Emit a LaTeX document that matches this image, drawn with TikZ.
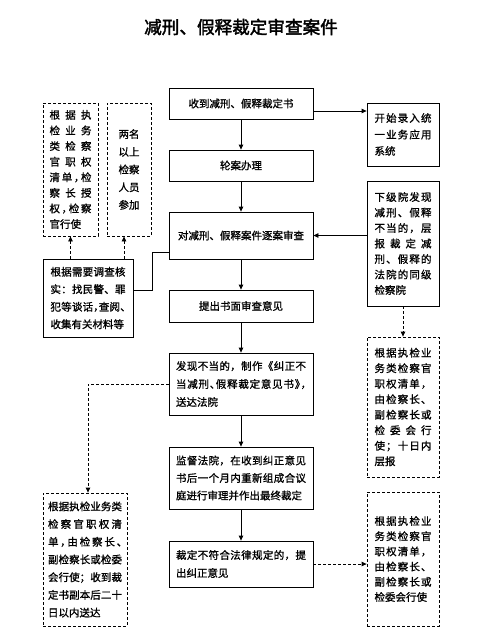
\documentclass[tikz,border=0pt]{standalone}
\usepackage{fontspec}
\setmainfont{Noto Sans CJK SC}[FakeBold=1.1]
\newfontfamily\hf{Noto Sans CJK SC}[FakeBold=1.1,RawFeature=+halt]
\newfontfamily\tf{Noto Sans CJK SC}[FakeBold=2.2]
\usetikzlibrary{arrows.meta}
\newcommand\hc{{\hf ，}}
\newcommand\hd{{\hf 、}}
\newcommand\hq{{\hf 》}}
\newcommand\jst[2]{\leavevmode\hbox to #1{\jstA#2\relax}}
\def\jstA#1{\ifx\relax#1\else#1\expandafter\jstB\fi}
\def\jstB#1{\ifx\relax#1\else\hfil#1\expandafter\jstB\fi}
\tikzset{
  bx/.style={draw, line width=0.8pt, inner sep=0pt, align=left},
  dbx/.style={bx, dash pattern=on 3pt off 2pt},
  arr/.style={line width=0.8pt, -{Triangle[length=5pt,width=4.5pt]}},
  darr/.style={arr, dash pattern=on 3pt off 2pt},
  ln/.style={line width=0.8pt},
}
\newcommand\fs[1]{\fontsize{10.5pt}{#1}\selectfont}
\begin{document}
\begin{tikzpicture}[x=1pt,y=-1pt]
\useasboundingbox (0,0) rectangle (494,643);
\node[font=\tf\fontsize{17.6pt}{20pt}\selectfont] (title) at (241,27) {减刑、假释裁定审查案件};

% main column
\node[bx, minimum width=144pt, minimum height=31pt, font=\fs{17pt}] (b1) at (241,103.5) {收到减刑、假释裁定书};
\node[bx, minimum width=144pt, minimum height=31pt, font=\fs{17pt}] (b2) at (241,165.5) {轮案办理};
\node[bx, minimum width=144pt, minimum height=47pt, font=\fs{17pt}] (b3) at (241,235.5) {对减刑、假释案件逐案审查};
\node[bx, minimum width=144pt, minimum height=32pt, font=\fs{17pt}] (b4) at (241,306) {提出书面审查意见};
\node[bx, minimum width=144pt, minimum height=62pt, text width=130pt, font=\fs{18pt}] (b5) at (241,384)
  {\jst{130pt}{发现不当的，制作《纠正不}\\\jst{130pt}{当减刑\hd 假释裁定意见书\hq\hc}\\送达法院};
\node[bx, minimum width=144pt, minimum height=62pt, text width=130pt, font=\fs{17.5pt}] (b6) at (241,478)
  {\jst{130pt}{监督法院，在收到纠正意见}\\\jst{130pt}{书后一个月内重新组成合议}\\庭进行审理并作出最终裁定};
\node[bx, minimum width=144pt, minimum height=46pt, text width=130pt, font=\fs{18pt}] (b7) at (241,564)
  {\jst{130pt}{裁定不符合法律规定的，提}\\出纠正意见};

% right column
\node[bx, minimum width=72pt, minimum height=63pt, text width=57pt, font=\fs{16.5pt}] (r1) at (403,134.5)
  {\jst{57pt}{开始录入统}\\\jst{57pt}{一业务应用}\\系统};
\node[bx, minimum width=72pt, minimum height=125pt, text width=57pt, font=\fs{15.5pt}] (r2) at (403,243.5)
  {\jst{57pt}{下级院发现}\\\jst{57pt}{减刑、假释}\\\jst{57pt}{不当的，层}\\\jst{57pt}{报裁定减}\\\jst{57pt}{刑、假释的}\\\jst{57pt}{法院的同级}\\检察院};
\node[dbx, minimum width=72pt, minimum height=140pt, text width=57pt, font=\fs{15.5pt}] (r3) at (403,407)
  {\jst{57pt}{根据执检业}\\\jst{57pt}{务类检察官}\\\jst{57pt}{职权清单，}\\\jst{57pt}{由检察长、}\\\jst{57pt}{副检察长或}\\\jst{57pt}{检委会行}\\\jst{57pt}{使；十日内}\\层报};
\node[dbx, minimum width=72pt, minimum height=134pt, text width=57pt, font=\fs{15.2pt}] (r4) at (403,559)
  {\jst{57pt}{根据执检业}\\\jst{57pt}{务类检察官}\\\jst{57pt}{职权清单，}\\\jst{57pt}{由检察长、}\\\jst{57pt}{副检察长或}\\检委会行使};

% left column
\node[dbx, minimum width=55pt, minimum height=133pt, text width=42pt, font=\fs{15.6pt}] (l1) at (70.5,169.5)
  {\jst{42pt}{根据执}\\\jst{42pt}{检业务}\\\jst{42pt}{类检察}\\\jst{42pt}{官职权}\\\jst{42pt}{清单\hc 检}\\\jst{42pt}{察长授}\\\jst{42pt}{权\hc 检察}\\官行使};
\node[dbx, minimum width=44pt, minimum height=133pt, align=center, font=\fs{17.7pt}] (l2) at (129,169.5)
  {两名\\以上\\检察\\人员\\参加};
\node[bx, minimum width=90pt, minimum height=78pt, text width=75pt, font=\fs{17.5pt}] (l3) at (88,298)
  {\jst{75pt}{根据需要调查核}\\\jst{75pt}{实：找民警、罪}\\\jst{75pt}{犯等谈话\hc 查阅\hd}\\收集有关材料等};
\node[dbx, minimum width=84pt, minimum height=133pt, text width=74pt, font=\fs{17.7pt}] (l4) at (85,559.5)
  {\jst{74pt}{根据执检业务类}\\\jst{74pt}{检察官职权清}\\\jst{74pt}{单\hc 由检察长\hd}\\\jst{74pt}{副检察长或检委}\\\jst{74pt}{会行使；收到裁}\\\jst{74pt}{定书副本后二十}\\日以内送达};

% helper coordinates
\coordinate (y111) at (0,111);
\coordinate (k1) at (152,252);
\coordinate (k2) at (152,290);
\coordinate (x124) at (124,0);
\coordinate (x88) at (88,0);

% connectors
\draw[arr] (b1) -- (b2);
\draw[arr] (b1.east |- y111) -- (r1.west |- y111);
\draw[arr] (b2) -- (b3);
\draw[arr] (b3) -- (b4);
\draw[arr] (b4) -- (b5);
\draw[arr] (b5) -- (b6);
\draw[arr] (b6) -- (b7);
\draw[arr] (r2.west |- b3.east) -- (b3.east);
\draw[ln] (b3.west |- k1) -- (k1) -- (k2) -- (l3.east |- k2);
\draw[darr] (l3.north -| l1.south) -- (l1.south);
\draw[darr] (l3.north -| x124) -- (l2.south -| x124);
\draw[darr] (b5.west) -| (l4.north -| x88);
\draw[darr] (r2.south) -- (r3.north);
\draw[darr] (b7.east) -- (b7.east -| r4.west);
\end{tikzpicture}
\end{document}
